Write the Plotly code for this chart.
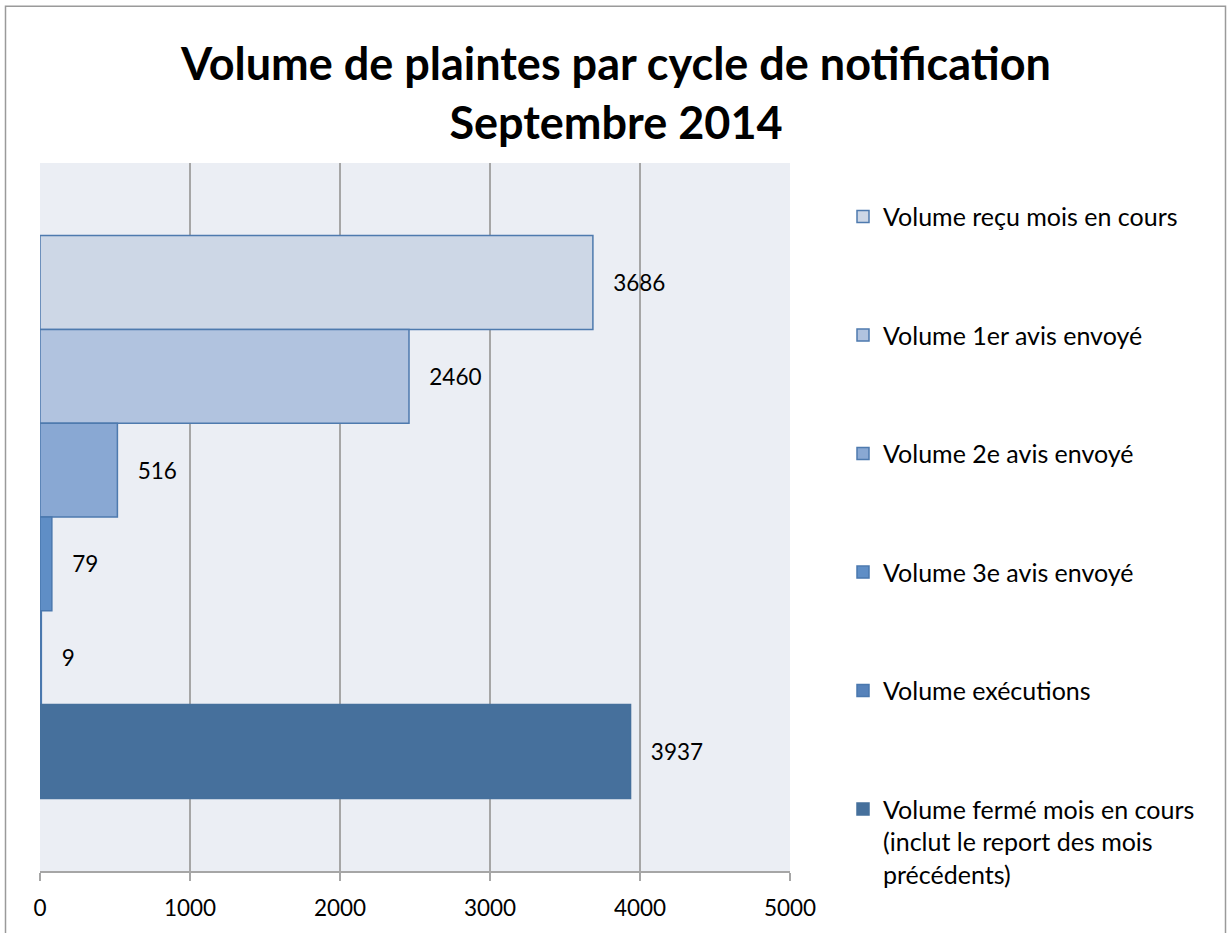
import plotly.graph_objects as go

series_names = [
    "Volume reçu mois en cours",
    "Volume 1er avis envoyé",
    "Volume 2e avis envoyé",
    "Volume 3e avis envoyé",
    "Volume exécutions",
    "Volume fermé mois en cours<br>(inclut le report des mois<br>précédents)",
]
series_values = [3686, 2460, 516, 79, 9, 3937]
series_colors = ["#CDD7E6", "#B1C3DF", "#89A8D3", "#5F8EC6", "#5682BA", "#46709C"]
border_colors = ["#4E7AAE", "#4E7AAE", "#4E7AAE", "#4A78AE", "#4A78AE", "#46709C"]
x_ticks = [0, 1000, 2000, 3000, 4000, 5000]

FONT = "Lato"
NB = "\u00a0"

fig = go.Figure()
for i, (name, val) in enumerate(zip(series_names, series_values)):
    fig.add_trace(go.Bar(
        x=[val], y=[0], orientation="h", name=name,
        marker=dict(color=series_colors[i], line=dict(color=border_colors[i], width=1.5)),
        text=[NB * 3 + str(val)], textposition="outside", cliponaxis=False,
        textfont=dict(family=FONT, size=22.5, color="black"),
        legendgroup=f"g{i}",
    ))

W, H = 1227, 933
ml, mr, mt, mb = 40, W - 790, 163, H - 874
pw, ph = W - ml - mr, H - mt - mb

def px_x(p):
    return (p - ml) / pw

def px_y(p):
    return (H - mb - p) / ph

fig.update_layout(
    width=W, height=H,
    margin=dict(l=ml, r=mr, t=mt, b=mb),
    paper_bgcolor="white", plot_bgcolor="#EBEEF4",
    barmode="group", bargap=0.205, bargroupgap=0,
    title=dict(
        text="<b>Volume de plaintes par cycle de notification<br>Septembre 2014</b>",
        x=616 / W, xanchor="center", y=1 - 80 / H, yanchor="middle",
        xref="container", yref="container",
        font=dict(family=FONT, size=45, color="black"),
    ),
    font=dict(family=FONT, size=22.5, color="black"),
    showlegend=True,
    legend=dict(
        x=px_x(843), y=px_y(194), xanchor="left", yanchor="top",
        traceorder="grouped", tracegroupgap=83,
        font=dict(family=FONT, size=25, color="black"),
        valign="top", itemwidth=30,
        bgcolor="rgba(0,0,0,0)",
    ),
    xaxis=dict(
        range=[0, 5000], tickvals=x_ticks, ticktext=[str(t) for t in x_ticks],
        showgrid=True, gridcolor="#A6A6A6", gridwidth=1.5,
        showline=True, linecolor="#A6A6A6", linewidth=1.5,
        ticks="outside", ticklen=8, tickcolor="#A6A6A6", tickwidth=1.5,
        ticklabelstandoff=8,
        tickfont=dict(family=FONT, size=22.5, color="black"),
        zeroline=False, fixedrange=True,
    ),
    yaxis=dict(
        range=[0.5, -0.5], showticklabels=False, showgrid=False, zeroline=False,
        showline=False, ticks="", fixedrange=True,
    ),
    shapes=[dict(
        type="rect", xref="paper", yref="paper",
        x0=px_x(5.5), x1=px_x(1225.5), y0=px_y(960), y1=px_y(5.5),
        line=dict(color="#9A9A9A", width=1.5), fillcolor="rgba(0,0,0,0)", layer="below",
    )],
)

fig.write_html(
    "out.html",
    config={"displayModeBar": False},
    post_script="document.body.style.margin='0';document.body.style.overflow='hidden';",
)
